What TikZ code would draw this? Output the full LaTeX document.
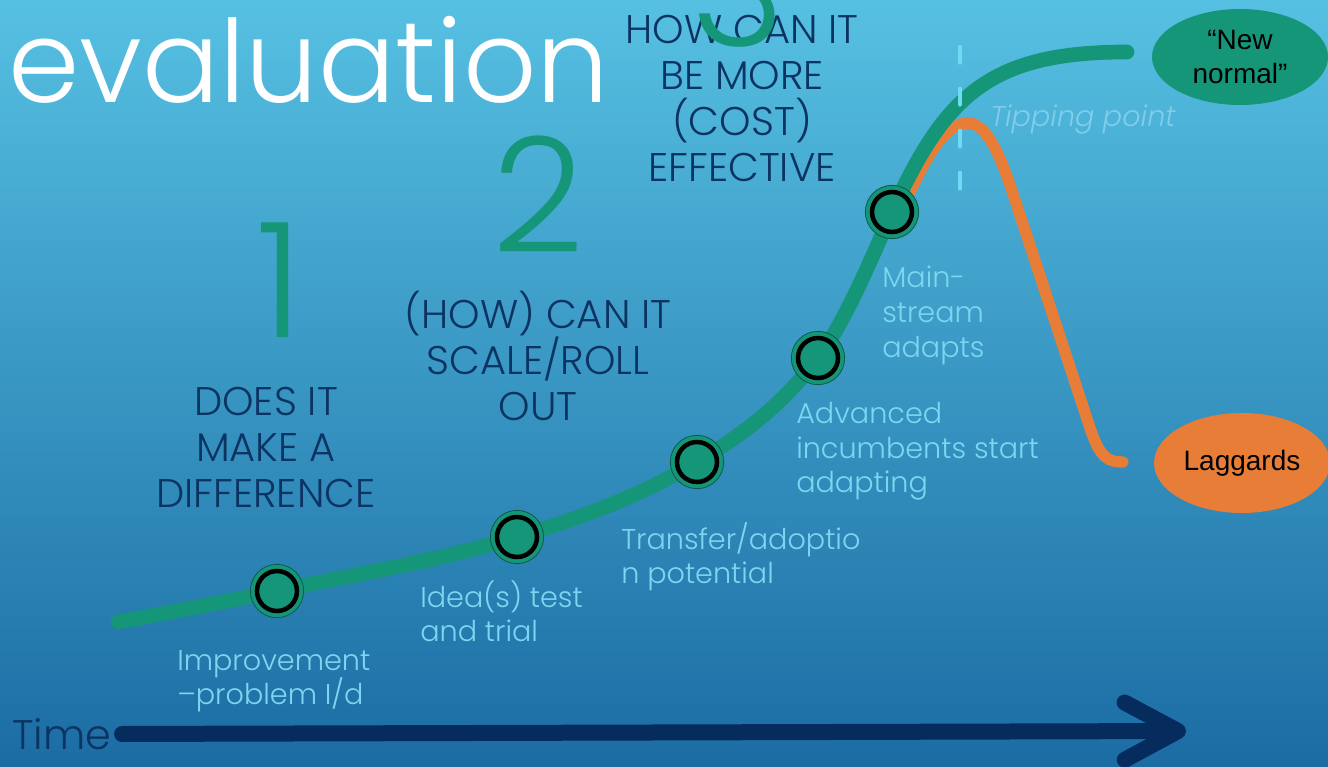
\documentclass[tikz,border=0pt]{standalone}
\usepackage{fontspec}
\setmainfont{Poppins}[UprightFont=* Light, ItalicFont=* Light Italic]
\newfontfamily\arialfont{Liberation Sans}
\usepackage{tikz}
\usetikzlibrary{positioning, arrows.meta, shapes.geometric}
\usepackage{xcolor}
\pgfdeclarelayer{back}
\pgfdeclarelayer{bg}
\pgfsetlayers{back,bg,main}

\definecolor{bgtop}{RGB}{86,192,226}
\definecolor{bgbottom}{RGB}{27,108,163}
\definecolor{curvegreen}{RGB}{22,150,121}
\definecolor{markerrim}{RGB}{12,90,72}
\definecolor{lagorange}{RGB}{232,125,56}
\definecolor{navy}{RGB}{12,52,98}
\definecolor{arrownavy}{RGB}{6,44,94}
\definecolor{labelcyan}{RGB}{125,214,240}
\definecolor{tipcyan}{RGB}{128,206,234}
\definecolor{dashcyan}{RGB}{110,218,244}

\tikzset{
  heading/.style={text=navy, font=\fontsize{30}{34.5}\selectfont, align=center, inner sep=0pt, anchor=north},
  bignum/.style={text=curvegreen, font=\fontsize{120}{120}\selectfont, inner sep=0pt, anchor=base},
  steplabel/.style={text=labelcyan, font=\fontsize{21.5}{26}\selectfont, align=left, inner sep=0pt, anchor=north west},
  marker/.style={circle, fill=curvegreen, draw=markerrim, line width=0.6pt, minimum size=40pt, inner sep=0pt,
    path picture={\draw[black, line width=3.4pt] (path picture bounding box.center) circle (15pt);}},
  outcome/.style={ellipse, minimum width=132pt, minimum height=72pt, inner sep=0pt, align=center,
    font=\arialfont\fontsize{21}{25}\selectfont},
}

\begin{document}
\begin{tikzpicture}[x=0.75pt, y=-0.75pt]
%

%%% background
\begin{pgfonlayer}{back}
\shade[top color=bgtop, bottom color=bgbottom] (0,0) rectangle (1328,767);
\end{pgfonlayer}
\useasboundingbox (0,0) rectangle (1328,767);
\clip (0,0) rectangle (1328,767);

%%% TITLE
\node [text=white, font=\fontsize{86}{86}\selectfont, inner sep=0pt, anchor=base west] (title) at (8,103) {evaluation};

%%% QUESTIONS
\node [heading] (q-one) at (266,387) {DOES IT\\ MAKE A\\ DIFFERENCE};
\node [heading] (q-two) at (538,291) {(HOW)\ CAN IT\\ SCALE/ROLL\\ OUT};
\node [heading] (q-three) at (742,15) {HOW CAN IT\\ BE MORE\\ (COST)\\ EFFECTIVE};

%%% NUMBERS
\node [bignum] (n-one) at (280,337) {1};
\node [bignum] (n-two) at (538,252) {2};
\node [bignum] (n-three) at (738,47) {3};

%%% MARKERS
\node [marker] (m1) at (277,591) {};
\node [marker] (m2) at (517,537) {};
\node [marker] (m3) at (697,462) {};
\node [marker] (m4) at (818,358) {};
\node [marker] (m5) at (892,212) {};

\coordinate (c-start) at (118,622);
\coordinate (c-end) at (1127,52);

\coordinate (o-start) at (910,192);
\coordinate (o-peak) at (968,123);
\coordinate (o-bend) at (1015,200);
\coordinate (o-low) at (1090,428);
\coordinate (o-end) at (1123,462);

%%% STEP LABELS
\node [steplabel] (l-improve) at (177,650) {Improvement\\ –problem I/d};
\node [steplabel] (l-idea) at (420,580) {Idea(s) test\\ and trial};
\node [steplabel] (l-transfer) at (621,522) {Transfer/adoptio\\ n potential};
\node [steplabel] (l-advanced) at (796,402) {Advanced\\ incumbents start\\ adapting};
\node [steplabel] (l-main) at (882,266) {Main-\\ stream\\ adapts};
\node [steplabel, text=tipcyan, font=\fontsize{21.5}{26}\selectfont\itshape] (l-tip) at (990,105) {Tipping point};

%%% OUTCOMES
\node [outcome, fill=curvegreen] (new-normal) at (1240,57) {“New\\ normal”};
\node [outcome, fill=lagorange, minimum height=75pt] (laggards) at (1242,463) {Laggards};

%%% TIME
\node [text=navy, font=\fontsize{31}{31}\selectfont, inner sep=0pt, anchor=north west] (time) at (12,718) {Time};
\coordinate (t-end) at (1186,731);

%%% curves, arrows
\begin{pgfonlayer}{bg}
\draw [lagorange, line width=8.5pt, line cap=round] (o-start) .. controls (926,158) and (945,123) .. (o-peak)
  .. controls (990,123) and (1005,170) .. (o-bend) -- (o-low) .. controls (1100,458) and (1108,462) .. (o-end);
\draw [curvegreen, line width=11pt, line cap=round] (c-start) .. controls (171,612) and (224,602) .. (m1.center)
  .. controls (357,574) and (437,561) .. (m2.center)
  .. controls (577,519) and (637,498) .. (m3.center)
  .. controls (737,438) and (778,410) .. (m4.center)
  .. controls (843,325) and (867,269) .. (m5.center)
  .. controls (945,95) and (990,52) .. (c-end);
\end{pgfonlayer}

\coordinate (tip-top) at (960,47);
\coordinate (tip-bottom) at (960,191);
\draw [dashcyan, line width=3.5pt, line cap=round, dash pattern=on 11.5pt off 20pt] (tip-top) -- (tip-bottom);

\draw [arrownavy, line width=12pt, line cap=round, -{Straight Barb[round, length=40pt, width=43pt]}] ([xshift=8pt]time.east) -- (t-end);

\end{tikzpicture}
\end{document}
